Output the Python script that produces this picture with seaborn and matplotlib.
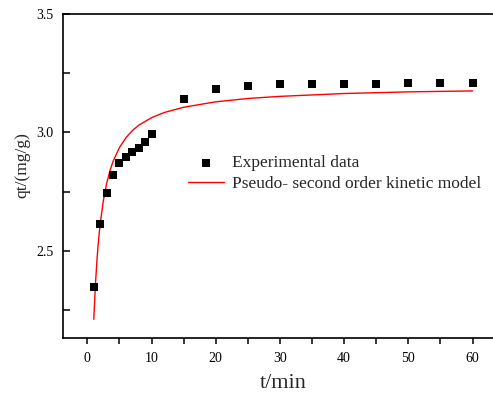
import matplotlib
matplotlib.use("Agg")
import matplotlib.pyplot as plt
import seaborn as sns
import pandas as pd
from matplotlib.ticker import MultipleLocator

# Experimental data
t_exp = [1, 2, 3, 4, 5, 6, 7, 8, 9, 10, 15, 20, 25, 30, 35, 40, 45, 50, 55, 60]
qt_exp = [2.345, 2.611, 2.744, 2.820, 2.872, 2.897, 2.915, 2.932, 2.960, 2.994,
          3.142, 3.182, 3.196, 3.203, 3.204, 3.205, 3.206, 3.207, 3.207, 3.207]

# Pseudo-second order model curve
t_fit = [1, 1.25, 1.5, 1.75, 2, 2.5, 3, 3.5, 4, 5, 6, 7, 8, 10, 12, 15, 20, 25, 30, 40, 50, 60]
qt_fit = [2.210, 2.355, 2.464, 2.547, 2.614, 2.713, 2.784, 2.836, 2.877, 2.936, 2.977,
          3.007, 3.030, 3.062, 3.084, 3.106, 3.129, 3.143, 3.152, 3.164, 3.171, 3.175]

label_exp = "Experimental data"
label_fit = "Pseudo- second order kinetic model"

sns.set_style("white")
plt.rcParams['font.family'] = ['Liberation Serif', 'DejaVu Serif']

df_exp = pd.DataFrame({"t": t_exp, "qt": qt_exp})
df_fit = pd.DataFrame({"t": t_fit, "qt": qt_fit})

fig = plt.figure(figsize=(4.93, 3.99), dpi=100)
ax = fig.add_axes([63.3 / 493, 1 - 338 / 399, (496.6 - 63.3) / 493, (338 - 14) / 399])

sns.scatterplot(data=df_exp, x="t", y="qt", ax=ax, marker="s", s=40, color="black",
                edgecolor="black", linewidth=0, label=label_exp, zorder=3)
sns.lineplot(data=df_fit, x="t", y="qt", ax=ax, color="red", linewidth=1.0,
             label=label_fit, zorder=2)

ax.set_xlim(-3.75, 63.75)
ax.set_ylim(2.131, 3.5)
ax.xaxis.set_major_locator(MultipleLocator(10))
ax.xaxis.set_minor_locator(MultipleLocator(5))
ax.yaxis.set_major_locator(MultipleLocator(0.5))
ax.yaxis.set_minor_locator(MultipleLocator(0.25))

for s in ["left", "bottom", "top"]:
    ax.spines[s].set_linewidth(1.2)
    ax.spines[s].set_color("black")
ax.spines["right"].set_visible(False)

ax.tick_params(axis="x", which="both", direction="out", length=4, width=1.1,
               bottom=True, labelsize=10, pad=6, colors="black")
ax.tick_params(axis="y", which="both", direction="in", length=5, width=1.1,
               left=True, labelsize=10, pad=7, colors="black")

ax.set_xlabel("t/min", fontsize=16)
ax.set_ylabel("qt/(mg/g)", fontsize=12.5)
ax.xaxis.set_label_coords((283 - 63.3) / 433.3, (338 - 374) / 324)
ax.yaxis.set_label_coords((30 - 63.3) / 433.3, (338 - 165) / 324)

leg = ax.legend(loc="upper left", bbox_to_anchor=(188 / 493, 1 - 155 / 399),
                bbox_transform=fig.transFigure, frameon=False, fontsize=12.5,
                handlelength=2.1, handletextpad=0.45, labelspacing=0.25, borderpad=0,
                borderaxespad=0)

fig.savefig("out.png", dpi=100)
